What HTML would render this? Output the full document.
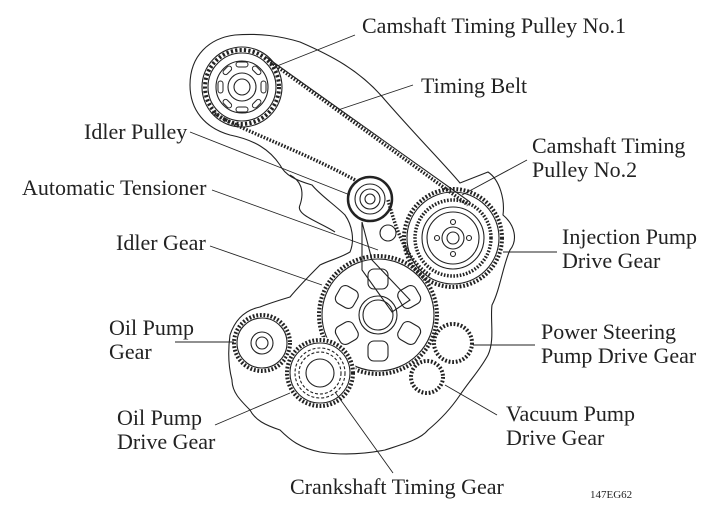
<!DOCTYPE html>
<html><head><meta charset="utf-8"><style>
html,body{margin:0;padding:0;background:#fff}
svg{display:block}
text{font-family:"Liberation Serif",serif;font-size:22px;fill:#222}
</style></head><body>
<svg width="712" height="517" viewBox="0 0 712 517" xmlns="http://www.w3.org/2000/svg">
<g fill="none" stroke="#222" stroke-width="1.1">
<path d="M300,42 C330,55 360,70 385,100 C420,140 445,165 460,183 L488,172 C500,180 505,200 503,215 C515,225 518,240 510,250 C503,265 500,290 492,305 C490,320 495,340 488,355 C480,370 470,380 460,395 C450,410 440,420 428,430 C420,440 400,445 385,450 C360,455 340,455 320,452 C300,448 290,440 280,430 C265,425 255,420 250,410 C240,400 232,392 232,380 C228,365 228,350 230,335 C235,320 245,310 260,307 C270,303 280,300 290,297 C300,285 310,275 320,265 C330,260 340,258 350,252 C355,240 352,225 345,215 C335,205 320,195 312,185 C295,180 285,175 280,165 C270,150 255,140 230,135 C205,128 190,110 190,85 C190,55 210,38 235,35 C260,33 280,36 300,42 Z"/>
<path d="M290,175 C300,180 305,190 300,205 C295,215 320,222 335,232"/>
<circle cx="242" cy="87" r="37" stroke-width="4" stroke-dasharray="2.2 2.2"/>
<circle cx="242" cy="87" r="34"/>
<circle cx="242" cy="87" r="40"/>
<circle cx="242" cy="87" r="26"/>
<circle cx="242" cy="87" r="14"/>
<circle cx="242" cy="87" r="8"/>
<g stroke-width="1"><rect x="236" y="62" width="12" height="5" rx="2.5"/><rect x="236" y="107" width="12" height="5" rx="2.5"/><rect x="218" y="81" width="5" height="12" rx="2.5"/><rect x="261" y="81" width="5" height="12" rx="2.5"/>
<rect x="222" y="68" width="10" height="5" rx="2.5" transform="rotate(-45 227 70)"/><rect x="252" y="68" width="10" height="5" rx="2.5" transform="rotate(45 257 70)"/><rect x="222" y="101" width="10" height="5" rx="2.5" transform="rotate(45 227 104)"/><rect x="252" y="101" width="10" height="5" rx="2.5" transform="rotate(-45 257 104)"/></g>
<path d="M268,60 L468,205" stroke-width="3.5" stroke-dasharray="1.6 1.6"/>
<path d="M266,57 L470,202"/>
<path d="M212,112 C240,130 300,150 355,180" stroke-width="3.5" stroke-dasharray="1.6 1.6"/>
<path d="M388,200 C395,225 405,260 430,275" stroke-width="3.5" stroke-dasharray="1.6 1.6"/>
<circle cx="453" cy="238" r="38" stroke-width="3.5" stroke-dasharray="1.6 1.6"/>
<circle cx="370" cy="199" r="22" stroke-width="2.5"/>
<circle cx="370" cy="199" r="15"/>
<circle cx="370" cy="199" r="10"/>
<circle cx="370" cy="199" r="5"/>
<circle cx="388" cy="233" r="8"/>
<path d="M362,222 L372,260 L410,300 L392,312 L362,270 Z"/>
<circle cx="453" cy="238" r="49" stroke-width="4" stroke-dasharray="1.8 1.8"/>
<circle cx="453" cy="238" r="46"/>
<circle cx="453" cy="238" r="31"/>
<circle cx="453" cy="238" r="26"/>
<circle cx="453" cy="238" r="11"/>
<circle cx="453" cy="238" r="6"/>
<circle cx="453" cy="222" r="2.5"/><circle cx="453" cy="254" r="2.5"/><circle cx="437" cy="238" r="2.5"/><circle cx="469" cy="238" r="2.5"/>
<circle cx="378" cy="315" r="59" stroke-width="4" stroke-dasharray="1.8 1.8"/>
<circle cx="378" cy="315" r="56"/>
<circle cx="378" cy="315" r="19"/>
<circle cx="378" cy="315" r="15"/>
<g transform="translate(378 315)">
<rect x="-10" y="-46" width="20" height="20" rx="6"/>
<rect x="-10" y="26" width="20" height="20" rx="6"/>
<rect x="-10" y="-46" width="20" height="20" rx="6" transform="rotate(60)"/>
<rect x="-10" y="-46" width="20" height="20" rx="6" transform="rotate(120)"/>
<rect x="-10" y="-46" width="20" height="20" rx="6" transform="rotate(240)"/>
<rect x="-10" y="-46" width="20" height="20" rx="6" transform="rotate(300)"/>
</g>
<circle cx="262" cy="343" r="28" stroke-width="4" stroke-dasharray="1.8 1.8"/>
<circle cx="262" cy="343" r="25"/>
<circle cx="262" cy="343" r="11"/>
<circle cx="262" cy="343" r="6"/>
<circle cx="320" cy="373" r="33" stroke="#fff" stroke-width="6" fill="#fff"/>
<circle cx="320" cy="373" r="33" stroke-width="4" stroke-dasharray="1.8 1.8"/>
<circle cx="320" cy="373" r="30"/>
<circle cx="320" cy="373" r="25" stroke-dasharray="3 2"/>
<circle cx="320" cy="373" r="21" stroke-dasharray="3 2"/>
<circle cx="320" cy="373" r="14"/>
<circle cx="453" cy="343" r="19" stroke-width="4" stroke-dasharray="1.8 1.8"/>
<circle cx="427" cy="377" r="16" stroke-width="4" stroke-dasharray="1.8 1.8"/>
<g stroke-width="0.9">
<line x1="355" y1="35" x2="272" y2="68"/>
<line x1="413" y1="85" x2="338" y2="110"/>
<line x1="190" y1="132" x2="350" y2="195"/>
<line x1="527" y1="160" x2="462" y2="195"/>
<line x1="212" y1="190" x2="378" y2="250"/>
<line x1="210" y1="246" x2="322" y2="285"/>
<line x1="557" y1="252" x2="503" y2="252"/>
<line x1="175" y1="342" x2="234" y2="342"/>
<line x1="535" y1="345" x2="473" y2="345"/>
<line x1="215" y1="425" x2="290" y2="393"/>
<line x1="497" y1="415" x2="445" y2="385"/>
<line x1="393" y1="473" x2="335" y2="392"/>
</g>
</g>
<text x="362" y="33">Camshaft Timing Pulley No.1</text>
<text x="421" y="93">Timing Belt</text>
<text x="84" y="139">Idler Pulley</text>
<text x="532" y="153">Camshaft Timing</text>
<text x="532" y="177">Pulley No.2</text>
<text x="22" y="195">Automatic Tensioner</text>
<text x="116" y="250">Idler Gear</text>
<text x="562" y="244">Injection Pump</text>
<text x="562" y="268">Drive Gear</text>
<text x="109" y="335">Oil Pump</text>
<text x="109" y="359">Gear</text>
<text x="541" y="339">Power Steering</text>
<text x="541" y="363">Pump Drive Gear</text>
<text x="117" y="425">Oil Pump</text>
<text x="117" y="449">Drive Gear</text>
<text x="506" y="421">Vacuum Pump</text>
<text x="506" y="445">Drive Gear</text>
<text x="290" y="494">Crankshaft Timing Gear</text>
<text x="590" y="498" style="font-size:11px">147EG62</text>
</svg>
</body></html>
